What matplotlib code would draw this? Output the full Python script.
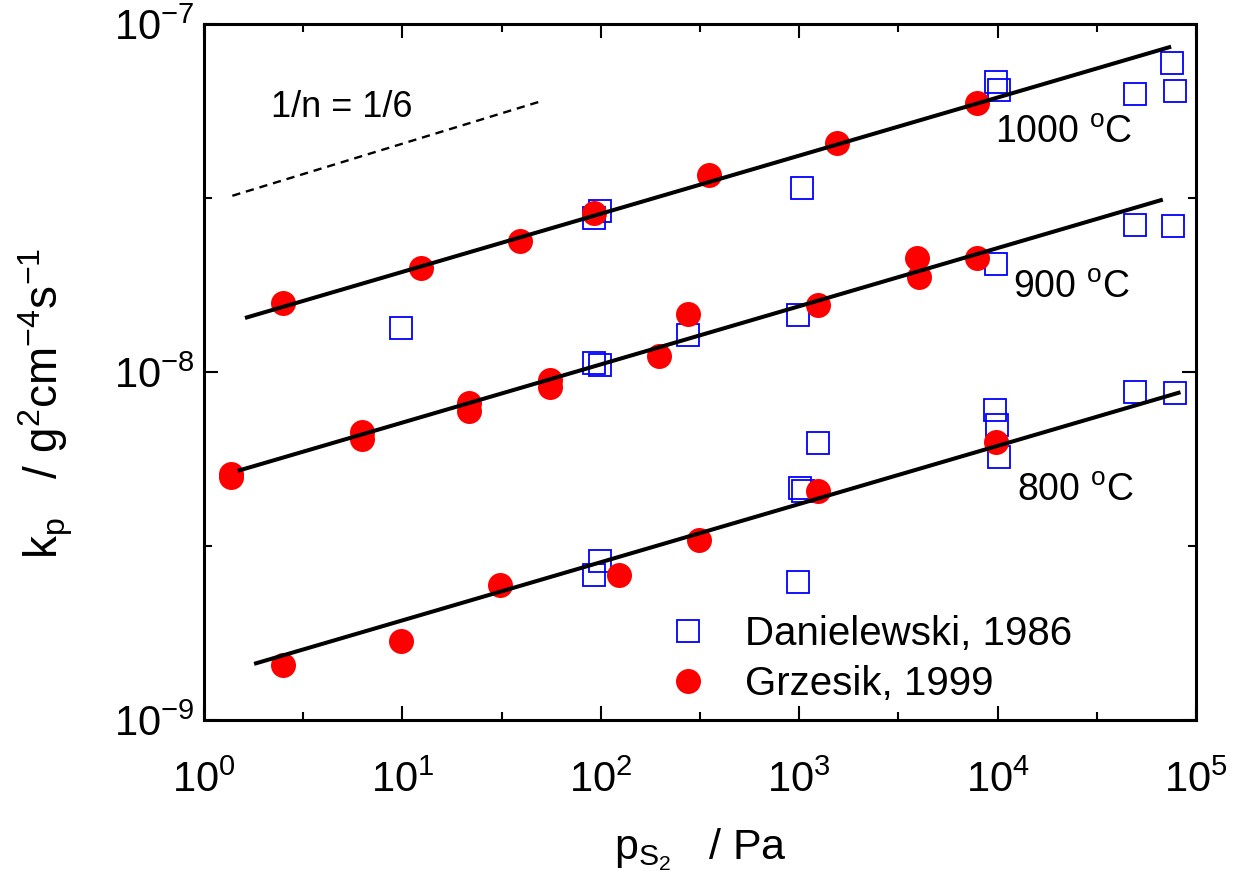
import numpy as np
import matplotlib
matplotlib.use("Agg")
import matplotlib.pyplot as plt
from matplotlib.ticker import LogLocator, NullFormatter

plt.rcParams["font.family"] = ["Liberation Sans", "DejaVu Sans"]
plt.rcParams["mathtext.fontset"] = "custom"
plt.rcParams["mathtext.rm"] = "Liberation Sans"
plt.rcParams["mathtext.it"] = "Liberation Sans:italic"
plt.rcParams["mathtext.bf"] = "Liberation Sans:bold"

# Danielewski, 1986 (open squares)
d1000_x = [92.2, 98.9, 1033, 9860, 10230, 49600, 76200, 78000]
d1000_y = [2.77e-8, 2.90e-8, 3.37e-8, 6.81e-8, 6.46e-8, 6.29e-8, 7.73e-8, 6.42e-8]
d900_x = [9.87, 92.5, 98.9, 275, 986, 9840, 49400, 76400]
d900_y = [1.34e-8, 1.06e-8, 1.05e-8, 1.28e-8, 1.46e-8, 2.05e-8, 2.65e-8, 2.62e-8]
d800_x = [92.3, 98.9, 986, 1012, 1040, 1242, 9660, 9890, 10120, 49400, 78200]
d800_y = [2.61e-9, 2.86e-9, 2.49e-9, 4.64e-9, 4.55e-9, 6.27e-9, 7.78e-9, 7.05e-9, 5.70e-9, 8.79e-9, 8.68e-9]

# Grzesik, 1999 (filled circles)
g1000_x = [2.50, 12.4, 39.1, 92.5, 351, 1556, 7870]
g1000_y = [1.58e-8, 1.99e-8, 2.38e-8, 2.87e-8, 3.69e-8, 4.54e-8, 5.92e-8]
g900_x = [1.37, 1.37, 6.23, 6.23, 21.6, 21.6, 55.3, 55.3, 197, 274, 1240, 3925, 4015, 7870]
g900_y = [5.09e-9, 4.99e-9, 6.73e-9, 6.41e-9, 8.15e-9, 7.73e-9, 9.48e-9, 9.06e-9,
          1.11e-8, 1.47e-8, 1.56e-8, 2.13e-8, 1.87e-8, 2.13e-8]
g800_x = [2.50, 9.83, 31.1, 124, 313, 1245, 9850]
g800_y = [1.44e-9, 1.69e-9, 2.44e-9, 2.61e-9, 3.29e-9, 4.55e-9, 6.28e-9]

# fitted lines (1000, 900, 800 C)
fit_x_start = [1.61, 1.48, 1.79]
fit_x_end = [75000, 68100, 83600]
fit_y_start = [1.43e-8, 5.2e-9, 1.45e-9]
fit_y_end = [8.61e-8, 3.13e-8, 8.75e-9]

# slope guide 1/n = 1/6
guide_x = [1.39, 49.0]
guide_y = [3.21e-8, 5.98e-8]

temp_labels = [r"1000 $^{\mathrm{o}}$C", r"900 $^{\mathrm{o}}$C", r"800 $^{\mathrm{o}}$C"]
temp_label_x = [9660, 11900, 12470]
temp_label_y = [4.55e-8, 1.63e-8, 4.26e-9]

fig = plt.figure(figsize=(12.52, 8.91), dpi=100)
ax = fig.add_axes([0.1629, 0.1919, 0.7923, 0.7811])
ax.set_xscale("log")
ax.set_yscale("log")
ax.set_xlim(1, 1e5)
ax.set_ylim(1e-9, 1e-7)

dan_x = d1000_x + d900_x + d800_x
dan_y = d1000_y + d900_y + d800_y
grz_x = g1000_x + g900_x + g800_x
grz_y = g1000_y + g900_y + g800_y

ax.plot(dan_x, dan_y, ls="none", marker="s", ms=15.5, mfc="none", mec="#0000ff", mew=1.3,
        label="Danielewski, 1986", zorder=2)
ax.plot(grz_x, grz_y, ls="none", marker="o", ms=18, mfc="#ff0000", mec="#ff0000", mew=0,
        label="Grzesik, 1999", zorder=3)

for i in range(3):
    ax.plot([fit_x_start[i], fit_x_end[i]], [fit_y_start[i], fit_y_end[i]], color="black",
            lw=2.9, solid_capstyle="butt", zorder=4)
    ax.text(temp_label_x[i], temp_label_y[i], temp_labels[i], fontsize=27, va="baseline", ha="left")

ax.plot(guide_x, guide_y, color="black", lw=1.7, ls=(0, (3.5, 2.5)), zorder=4)
ax.text(2.19, 5.42e-8, "1/n = 1/6", fontsize=26, va="baseline", ha="left")

ax.xaxis.set_major_locator(LogLocator(base=10, numticks=10))
ax.xaxis.set_minor_locator(LogLocator(base=10, subs=(10 ** 0.5,), numticks=10))
ax.yaxis.set_major_locator(LogLocator(base=10, numticks=10))
ax.yaxis.set_minor_locator(LogLocator(base=10, subs=(10 ** 0.5,), numticks=10))
ax.xaxis.set_minor_formatter(NullFormatter())
ax.yaxis.set_minor_formatter(NullFormatter())

ax.tick_params(which="both", direction="in", top=True, right=True, width=1.5, labelsize=30)
ax.tick_params(which="major", length=10)
ax.tick_params(which="minor", length=5.8)
ax.tick_params(axis="x", which="major", pad=29)
ax.tick_params(axis="y", which="major", pad=7)
for s in ax.spines.values():
    s.set_linewidth(2.2)

ax.set_xlabel(r"p$_{\mathrm{S_2}}$   / Pa", fontsize=31)
ax.xaxis.set_label_coords(0.5, -0.152)
ax.set_ylabel(r"k$_{\mathrm{p}}$   / g$^2$cm$^{-4}$s$^{-1}$", fontsize=33)
ax.yaxis.set_label_coords(-0.13, 0.455)

ax.legend(loc="center left", bbox_to_anchor=(0.4677, 0.0876), frameon=False, fontsize=29,
          borderpad=0, borderaxespad=0, handlelength=1.0, handletextpad=0.92,
          labelspacing=0.3, numpoints=1)

fig.savefig("out.png", dpi=100)
